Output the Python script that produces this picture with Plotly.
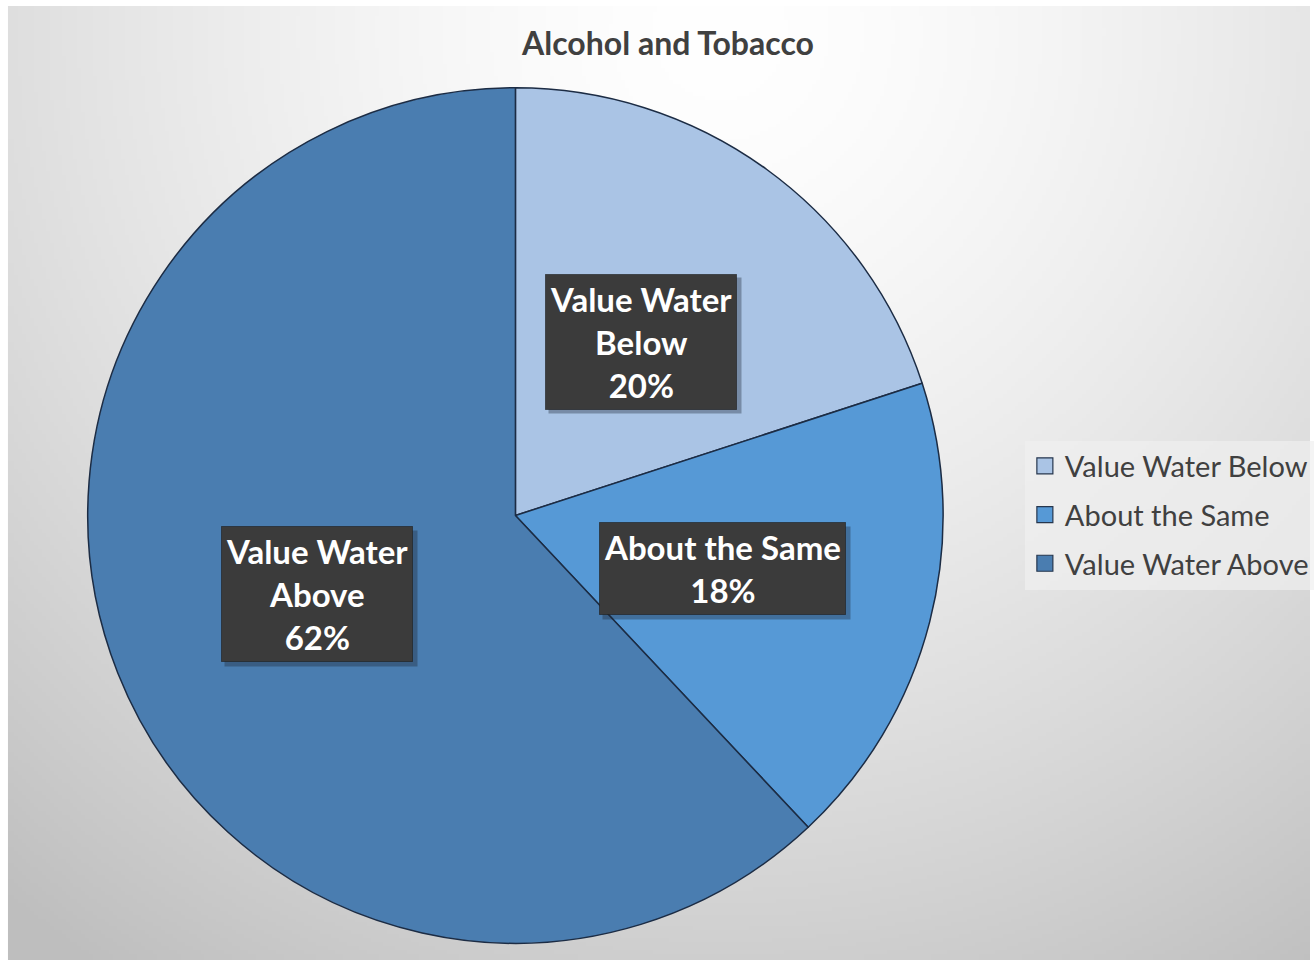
import base64, math, struct, zlib
import numpy as np
import plotly.graph_objects as go

# ---- data ----
categories = ["Value Water Below", "About the Same", "Value Water Above"]
values = [20, 18, 62]
slice_colors = ["#aac4e5", "#5699d6", "#4a7db0"]
title_text = "Alcohol and Tobacco"

W, H = 1314, 960
CX, CY, R = 517, 515.5, 429  # pie centre/radius in pixels


# ---- background gradient as an embedded PNG ----
def gradient_png(w, h):
    ys, xs = np.mgrid[0:h, 0:w].astype(float)
    sx, sy = (W - 8) / w, (H - 6) / h
    px, py = 8 + xs * sx, 6 + ys * sy
    d = np.hypot(px - 720, py - 30)
    v = 255 - 64 * (d / 1120.0) ** 1.5
    v = np.clip(v, 190, 255).astype(np.uint8)
    raw = b"".join(b"\x00" + row.tobytes() for row in v)

    def chunk(t, data):
        c = struct.pack(">I", len(data)) + t + data
        return c + struct.pack(">I", zlib.crc32(t + data) & 0xFFFFFFFF)

    png = b"\x89PNG\r\n\x1a\n"
    png += chunk(b"IHDR", struct.pack(">IIBBBBB", w, h, 8, 0, 0, 0, 0))
    png += chunk(b"IDAT", zlib.compress(raw, 9))
    png += chunk(b"IEND", b"")
    return "data:image/png;base64," + base64.b64encode(png).decode()


fig = go.Figure()
fig.add_trace(go.Pie(
    labels=categories,
    values=values,
    sort=False,
    direction="clockwise",
    rotation=0,
    textinfo="none",
    hoverinfo="label+percent",
    showlegend=False,
    marker=dict(colors=slice_colors, line=dict(color="#1c2c44", width=1.5)),
    domain=dict(x=[(CX - R) / W, (CX + R) / W], y=[1 - (CY + R) / H, 1 - (CY - R) / H]),
))

# legend entries (square swatches) for each category
for cat, col in zip(categories, slice_colors):
    fig.add_trace(go.Scatter(
        x=[None], y=[None], mode="markers", name=cat, legendgroup=cat,
        marker=dict(symbol="square", size=16, color=col,
                    line=dict(color="#26364d", width=1.2)),
        hoverinfo="skip",
    ))

# data labels positioned at mid-angle of each slice, half radius
total = sum(values)
annotations = []
cum = 0
texts = ["Value Water<br>Below", "About the Same", "Value Water<br>Above"]
for cat, val, txt in zip(categories, values, texts):
    mid = (cum + val / 2) / total * 2 * math.pi
    cum += val
    px = CX + 0.5 * R * math.sin(mid)
    py = CY - 0.5 * R * math.cos(mid)
    pct = round(val / total * 100)
    n_lines = txt.count("<br>") + 2
    box_w = 184 if "<br>" in txt else 239
    box_h = n_lines * 43 - 2
    # soft drop shadow (blank box behind the label)
    annotations.append(dict(
        x=(px + 4) / W, y=1 - (py + 4) / H, xref="paper", yref="paper",
        text=" ", showarrow=False, width=box_w, height=box_h,
        bgcolor="rgba(25,35,50,0.35)", borderpad=4,
        xanchor="center", yanchor="middle",
    ))
    annotations.append(dict(
        x=px / W, y=1 - py / H, xref="paper", yref="paper",
        text=f"<b>{txt}<br>{pct}%</b>", showarrow=False,
        font=dict(family="Lato", size=33, color="white"),
        bgcolor="#3b3b3b", bordercolor="rgba(30,30,30,0.6)", borderwidth=1,
        borderpad=4, xanchor="center", yanchor="middle",
    ))

fig.update_layout(
    width=W, height=H,
    margin=dict(l=0, r=0, t=0, b=0),
    paper_bgcolor="white",
    plot_bgcolor="rgba(0,0,0,0)",
    xaxis=dict(visible=False),
    yaxis=dict(visible=False),
    images=[dict(source=gradient_png(328, 240), xref="paper", yref="paper",
                 x=8 / W, y=1 - 6 / H, sizex=(W - 8) / W, sizey=(H - 6) / H,
                 xanchor="left", yanchor="top", sizing="stretch", layer="below")],
    title=dict(text=f"<b>{title_text}</b>", x=668 / W, xanchor="center",
               y=1 - 44 / H, yanchor="middle",
               font=dict(family="Lato", size=32, color="#404040")),
    legend=dict(x=1028 / W, xanchor="left", y=1 - 515 / H, yanchor="middle",
                bgcolor="rgba(240,240,240,0.7)", tracegroupgap=8,
                itemwidth=30,
                font=dict(family="Lato", size=29, color="#404040")),
    annotations=annotations,
)

fig.write_html("out.html")
